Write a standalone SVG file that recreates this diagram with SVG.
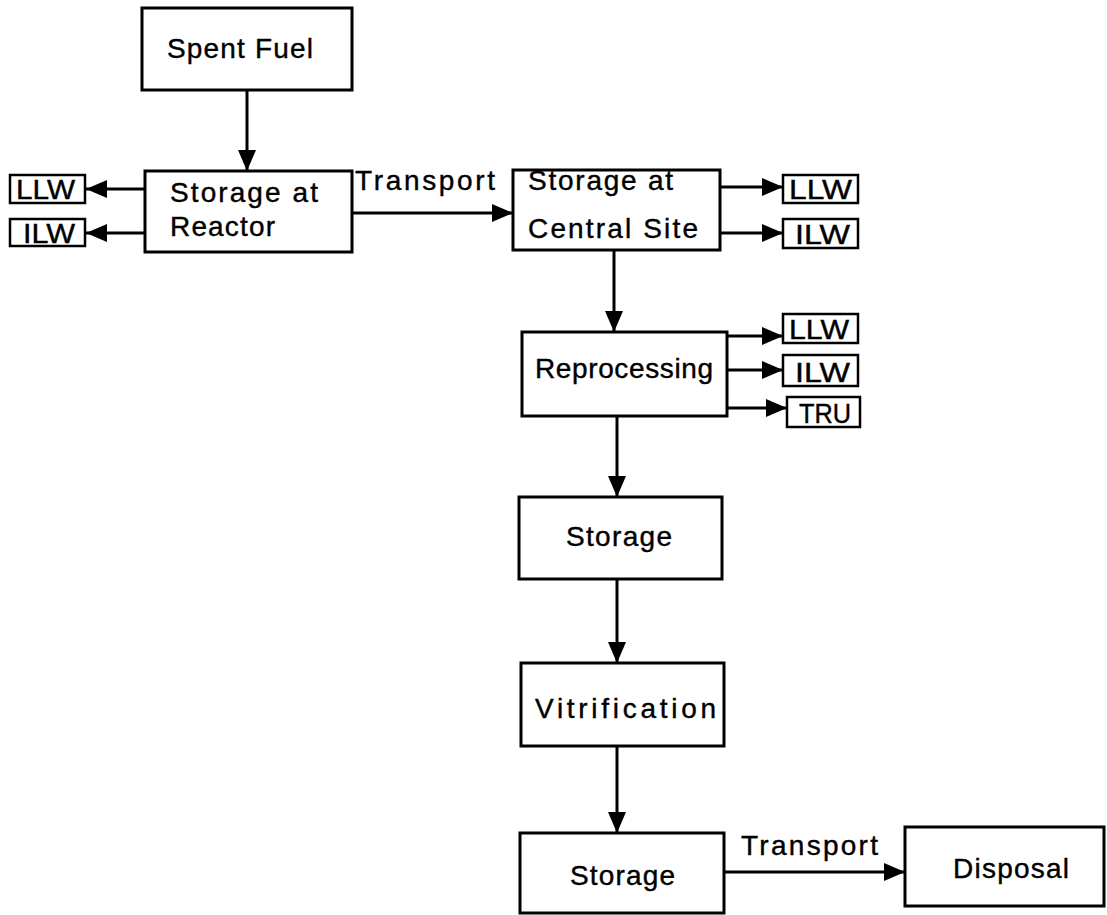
<svg xmlns="http://www.w3.org/2000/svg" width="1107" height="915" viewBox="0 0 1107 915">
<style>
.box{fill:#fff;stroke:#000;stroke-width:3}
.sbox{fill:#fff;stroke:#000;stroke-width:2.5}
.t{font-family:"Liberation Sans",Arial,sans-serif;font-size:28px;fill:#000;stroke:#000;stroke-width:0.4}
.s{font-family:"Liberation Sans",Arial,sans-serif;font-size:27px;fill:#000;stroke:#000;stroke-width:0.4}
.c{fill:none;stroke:#000;stroke-width:3}
</style>
<defs>
<marker id="ah" markerUnits="userSpaceOnUse" markerWidth="22" markerHeight="20" refX="21" refY="10" orient="auto">
<path d="M0,1 L21,10 L0,19 z" fill="#000"/>
</marker>
</defs>
<rect width="1107" height="915" fill="#fff"/>
<g id="connectors">
<line class="c" x1="247" y1="90" x2="247" y2="171" marker-end="url(#ah)"/>
<line class="c" x1="145" y1="189" x2="86" y2="189" marker-end="url(#ah)"/>
<line class="c" x1="145" y1="233" x2="86" y2="233" marker-end="url(#ah)"/>
<line class="c" x1="352" y1="213" x2="513" y2="213" marker-end="url(#ah)"/>
<line class="c" x1="720" y1="187" x2="783" y2="187" marker-end="url(#ah)"/>
<line class="c" x1="720" y1="233" x2="783" y2="233" marker-end="url(#ah)"/>
<line class="c" x1="614" y1="250" x2="614" y2="332" marker-end="url(#ah)"/>
<line class="c" x1="727" y1="336" x2="783" y2="336" marker-end="url(#ah)"/>
<line class="c" x1="727" y1="370" x2="783" y2="370" marker-end="url(#ah)"/>
<line class="c" x1="727" y1="408" x2="787" y2="408" marker-end="url(#ah)"/>
<line class="c" x1="617" y1="416" x2="617" y2="497" marker-end="url(#ah)"/>
<line class="c" x1="617" y1="579" x2="617" y2="663" marker-end="url(#ah)"/>
<line class="c" x1="617" y1="746" x2="617" y2="833" marker-end="url(#ah)"/>
<line class="c" x1="724" y1="872" x2="905" y2="872" marker-end="url(#ah)"/>
<text class="t" x="355" y="190" textLength="140" lengthAdjust="spacing">Transport</text>
<text class="t" x="741" y="855" textLength="137" lengthAdjust="spacing">Transport</text>
</g>
<g id="spent-fuel">
<rect class="box" x="142" y="8" width="210" height="82"/>
<text class="t" x="167" y="58" textLength="146" lengthAdjust="spacing">Spent Fuel</text>
</g>
<g id="storage-reactor">
<rect class="box" x="145" y="171" width="207" height="81"/>
<text class="t" x="170" y="202" textLength="148" lengthAdjust="spacing">Storage  at</text>
<text class="t" x="170" y="236" textLength="105" lengthAdjust="spacing">Reactor</text>
</g>
<g id="llw-reactor">
<rect class="sbox" x="10" y="175" width="75" height="28"/>
<text class="s" x="16" y="199" textLength="59" lengthAdjust="spacingAndGlyphs">LLW</text>
</g>
<g id="ilw-reactor">
<rect class="sbox" x="10" y="219" width="75" height="27"/>
<text class="s" x="23" y="243" textLength="52" lengthAdjust="spacingAndGlyphs">ILW</text>
</g>
<g id="storage-central">
<rect class="box" x="513" y="170" width="207" height="80"/>
<text class="t" x="528" y="190" textLength="145" lengthAdjust="spacing">Storage  at</text>
<text class="t" x="528" y="238" textLength="170" lengthAdjust="spacing">Central  Site</text>
</g>
<g id="llw-central">
<rect class="sbox" x="783" y="175" width="75" height="28"/>
<text class="s" x="789" y="199" textLength="63" lengthAdjust="spacingAndGlyphs">LLW</text>
</g>
<g id="ilw-central">
<rect class="sbox" x="783" y="219" width="75" height="29"/>
<text class="s" x="795" y="244" textLength="55" lengthAdjust="spacingAndGlyphs">ILW</text>
</g>
<g id="reprocessing">
<rect class="box" x="522" y="332" width="205" height="84"/>
<text class="t" x="535" y="378" textLength="178" lengthAdjust="spacing">Reprocessing</text>
</g>
<g id="llw-reproc">
<rect class="sbox" x="783" y="314" width="75" height="29"/>
<text class="s" x="789" y="339" textLength="60" lengthAdjust="spacingAndGlyphs">LLW</text>
</g>
<g id="ilw-reproc">
<rect class="sbox" x="783" y="355" width="75" height="31"/>
<text class="s" x="795" y="382" textLength="55" lengthAdjust="spacingAndGlyphs">ILW</text>
</g>
<g id="tru-reproc">
<rect class="sbox" x="787" y="397" width="73" height="30"/>
<text class="s" x="799" y="423" textLength="52" lengthAdjust="spacingAndGlyphs">TRU</text>
</g>
<g id="storage">
<rect class="box" x="519" y="497" width="203" height="82"/>
<text class="t" x="566" y="546" textLength="106" lengthAdjust="spacing">Storage</text>
</g>
<g id="vitrification">
<rect class="box" x="521" y="663" width="203" height="83"/>
<text class="t" x="535" y="718" textLength="181" lengthAdjust="spacing">Vitrification</text>
</g>
<g id="storage-2">
<rect class="box" x="520" y="833" width="204" height="80"/>
<text class="t" x="570" y="885" textLength="105" lengthAdjust="spacing">Storage</text>
</g>
<g id="disposal">
<rect class="box" x="905" y="827" width="199" height="79"/>
<text class="t" x="953" y="878" textLength="116" lengthAdjust="spacing">Disposal</text>
</g>
</svg>
